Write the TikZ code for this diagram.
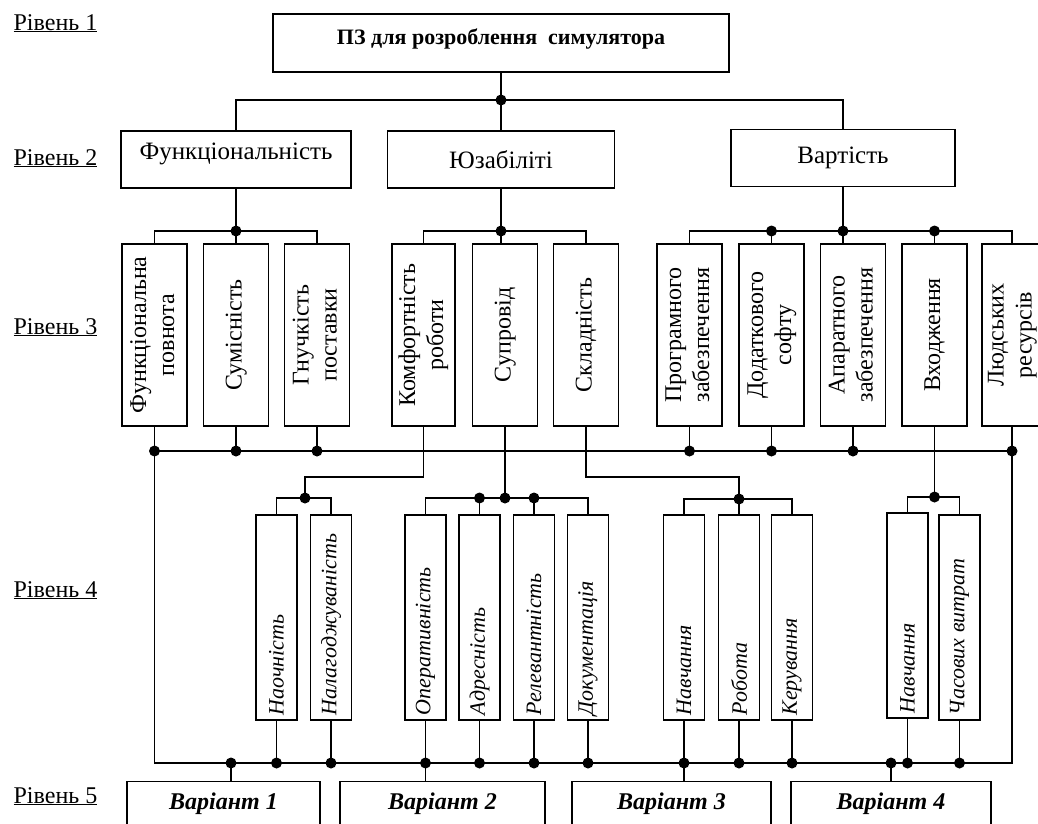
\documentclass[tikz,border=0pt]{standalone}
\usepackage{fontspec}
\setmainfont{Liberation Serif}
\usepackage{graphicx}
\usetikzlibrary{positioning,calc}

% rotated captions for the narrow boxes
\newcommand{\uptext}[1]{\rotatebox{90}{\begin{tabular}{@{}c@{}}#1\end{tabular}}}
\newcommand{\upleft}[1]{\rotatebox{90}{\makebox[195pt][l]{#1}}}

\begin{document}
\begin{tikzpicture}[x=1pt, y=-1pt, line width=1.3pt,
    box/.style={draw, fill=white, inner sep=0pt},
    lvl/.style={anchor=base west, inner sep=0pt, font=\fontsize{24}{28}\selectfont},
    titlebox/.style={box, minimum width=456pt, minimum height=58pt,
      text height=16pt, text depth=14pt, font=\bfseries\fontsize{22}{26}\selectfont},
    groupbox/.style={box, minimum height=57pt, font=\fontsize{25}{29}\selectfont},
    critbox/.style={box, minimum width=65pt, minimum height=182pt,
      font=\fontsize{24}{28}\selectfont},
    subbox/.style={box, minimum width=41pt, minimum height=205pt,
      font=\itshape\fontsize{22}{26}\selectfont},
    varbox/.style={box, anchor=north, minimum height=50pt,
      text height=16pt, text depth=10pt, font=\bfseries\itshape\fontsize{24}{28}\selectfont},
    jdot/.style={circle, fill, inner sep=0pt, minimum size=11pt}]

  \useasboundingbox (0,0) rectangle (1038,823);
  \clip (0,0) rectangle (1038,823);

  % Level captions
  \node[lvl] (l1) at (13,30) {\underline{Рівень 1}};
  \node[lvl] (l2) at (13,165) {\underline{Рівень 2}};
  \node[lvl] (l3) at (13,334) {\underline{Рівень 3}};
  \node[lvl] (l4) at (13,597) {\underline{Рівень 4}};
  \node[lvl] (l5) at (13,803) {\underline{Рівень 5}};

  % Level 1 and 2
  \node[titlebox] (root) at (501,43) {ПЗ для розроблення\ \ симулятора};
  \node[groupbox, minimum width=230pt, text height=17pt, text depth=17pt] (func) at (236,159.5) {Функціональність};
  \node[groupbox, minimum width=227pt] (usab) at (501,159.5) {Юзабіліті};
  \node[groupbox, minimum width=224pt] (cost) at (843,158) {Вартість};

  % Level 3
  \node[critbox] (f1) at (154.5,335) {\uptext{Функціональна\\повнота}};
  \node[critbox] (f2) at (236,335) {\uptext{Сумісність}};
  \node[critbox] (f3) at (317,335) {\uptext{Гнучкість\\поставки}};
  \node[critbox, minimum width=63pt] (u1) at (423.5,335) {\uptext{Комфортність\\роботи}};
  \node[critbox] (u2) at (505,335) {\uptext{Супровід}};
  \node[critbox] (u3) at (586,335) {\uptext{Складність}};
  \node[critbox] (c1) at (689.5,335) {\uptext{Програмного\\забезпечення}};
  \node[critbox] (c2) at (771.5,335) {\uptext{Додаткового\\софту}};
  \node[critbox] (c3) at (853,335) {\uptext{Апаратного\\забезпечення}};
  \node[critbox] (c4) at (934.5,335) {\uptext{Входження}};
  \node[critbox, minimum width=60pt] (c5) at (1012,335) {\uptext{Людських\\ресурсів}};

  % Level 4
  \node[subbox] (n1) at (276.5,617.5) {\upleft{Наочність}};
  \node[subbox] (n2) at (331,617.5) {\upleft{Налагоджуваність}};
  \node[subbox] (s1) at (425.5,617.5) {\upleft{Оперативність}};
  \node[subbox] (s2) at (479.5,617.5) {\upleft{Адресність}};
  \node[subbox] (s3) at (534,617.5) {\upleft{Релевантність}};
  \node[subbox] (s4) at (588,617.5) {\upleft{Документація}};
  \node[subbox] (k1) at (684,617.5) {\upleft{Навчання}};
  \node[subbox] (k2) at (739,617.5) {\upleft{Робота}};
  \node[subbox] (k3) at (792,617.5) {\upleft{Керування}};
  \node[subbox] (v1) at (907.5,615.5) {\upleft{Навчання}};
  \node[subbox] (v2) at (959.5,617.5) {\upleft{Часових витрат}};

  % Level 5
  \node[varbox, minimum width=193pt] (var1) at (223.5,781) {Варіант 1};
  \node[varbox, minimum width=205pt] (var2) at (442.5,781) {Варіант 2};
  \node[varbox, minimum width=199pt] (var3) at (671.5,781) {Варіант 3};
  \node[varbox, minimum width=200pt] (var4) at (891,781) {Варіант 4};

  % Level 1 -> 2
  \node[jdot] (j0) at (501,100) {};
  \draw (root) -- (j0.center) -- (usab);
  \draw (func.north) |- (j0.center) -| (cost.north);

  % Level 2 -> 3
  \node[jdot] (j1) at (236,231) {};
  \draw (func) -- (j1.center) -- (f2);
  \draw (f1.north) |- (j1.center) -| (f3.north);

  \node[jdot] (j2) at (501,231) {};
  \draw (usab) -- (j2.center) -- (j2.center |- u2.north);
  \draw (u1.north) |- (j2.center) -| (u3.north);

  \node[jdot] (j3) at (843,231) {};
  \node[jdot] (j3a) at (c2.north |- j3) {};
  \node[jdot] (j3b) at (c4.north |- j3) {};
  \draw (cost) -- (j3.center) -- (j3.center |- c3.north);
  \draw (c1.north) |- (j3.center) -| (c5.north);
  \draw (j3a.center) -- (c2.north);
  \draw (j3b.center) -- (c4.north);

  % Level 3 common line
  \node[jdot] (b1) at (f1.south |- 0,451) {};
  \node[jdot] (b2) at (f2.south |- 0,451) {};
  \node[jdot] (b3) at (f3.south |- 0,451) {};
  \node[jdot] (b4) at (c1.south |- 0,451) {};
  \node[jdot] (b5) at (c2.south |- 0,451) {};
  \node[jdot] (b6) at (c3.south |- 0,451) {};
  \node[jdot] (b7) at (c5.south |- 0,451) {};
  \draw (b1.center) -- (b7.center);
  \draw (f1) -- (b1.center);
  \draw (f2) -- (b2.center);
  \draw (f3) -- (b3.center);
  \draw (c1) -- (b4.center);
  \draw (c2) -- (b5.center);
  \draw (c3) -- (b6.center);
  \draw (c5) -- (b7.center);

  % Level 3 -> 4
  \coordinate (k4) at (305,477);
  \node[jdot] (j4) at (305,498) {};
  \draw (u1.south) |- (k4) -- (j4.center);
  \draw (n1.north) |- (j4.center) -| (n2.north);

  \node[jdot] (j5) at (505,498) {};
  \node[jdot] (j5a) at (s2.north |- j5) {};
  \node[jdot] (j5b) at (s3.north |- j5) {};
  \draw (u2) -- (j5.center);
  \draw (s1.north) |- (j5.center) -| (s4.north);
  \draw (j5a.center) -- (s2.north);
  \draw (j5b.center) -- (s3.north);

  \coordinate (k6) at (739,477);
  \node[jdot] (j6) at (739,499) {};
  \draw (u3.south) |- (k6) -- (j6.center) -- (k2.north);
  \draw (k1.north) |- (j6.center) -| (k3.north);

  \node[jdot] (j7) at (934.5,497) {};
  \draw (c4) -- (j7.center);
  \draw (v1.north) |- (j7.center) -| (v2.north);

  % Level 4 common line
  \node[jdot] (e1) at (231,763) {};
  \node[jdot] (e2) at (n1.south |- 0,763) {};
  \node[jdot] (e3) at (n2.south |- 0,763) {};
  \node[jdot] (e4) at (s1.south |- 0,763) {};
  \node[jdot] (e5) at (s2.south |- 0,763) {};
  \node[jdot] (e6) at (s3.south |- 0,763) {};
  \node[jdot] (e7) at (s4.south |- 0,763) {};
  \node[jdot] (e8) at (k1.south |- 0,763) {};
  \node[jdot] (e9) at (k2.south |- 0,763) {};
  \node[jdot] (e10) at (k3.south |- 0,763) {};
  \node[jdot] (e11) at (891,763) {};
  \node[jdot] (e12) at (v1.south |- 0,763) {};
  \node[jdot] (e13) at (v2.south |- 0,763) {};
  \coordinate (eR) at (c5.south |- 0,763);
  \draw (b1.center) |- (eR) -- (b7.center);
  \draw (n1) -- (e2.center);
  \draw (n2) -- (e3.center);
  \draw (s1) -- (e4.center);
  \draw (s2) -- (e5.center);
  \draw (s3) -- (e6.center);
  \draw (s4) -- (e7.center);
  \draw (k1) -- (e8.center);
  \draw (k2) -- (e9.center);
  \draw (k3) -- (e10.center);
  \draw (v1) -- (e12.center);
  \draw (v2) -- (e13.center);

  % Level 4 -> 5
  \draw (e1.center) -- (e1.center |- var1.north);
  \draw (e4.center) -- (e4.center |- var2.north);
  \draw (e8.center) -- (e8.center |- var3.north);
  \draw (e11.center) -- (e11.center |- var4.north);

\end{tikzpicture}
\end{document}
